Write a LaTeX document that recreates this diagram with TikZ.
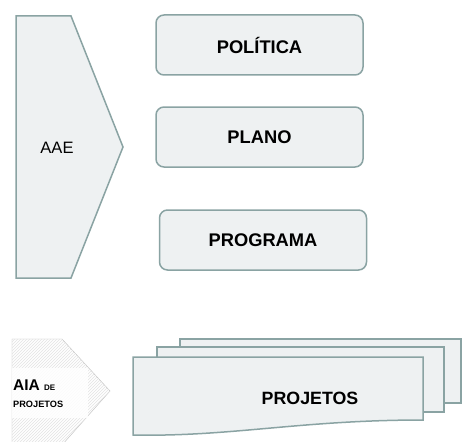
\documentclass[tikz,border=0pt]{standalone}
\usepackage{fontspec}
\setmainfont{Liberation Sans}
\usetikzlibrary{patterns}
\definecolor{edgegray}{HTML}{8AA3A3}
\definecolor{boxfill}{HTML}{EEF1F2}
\tikzset{
  levelbox/.style={draw=edgegray, fill=boxfill, line width=1.5pt, rounded corners=8pt,
    minimum width=207pt, minimum height=60pt, inner sep=0pt,
    font=\fontsize{18.3}{20}\selectfont\bfseries},
  sheet/.style={draw=edgegray, fill=boxfill, line width=1.5pt}
}

\begin{document}
\begin{tikzpicture}[x=1pt,y=-1pt]
\useasboundingbox (0,0) rectangle (462,441);
\clip (0,0) rectangle (462,441);
% AAE arrow
\draw[sheet] (16,16) -- (71,16) -- (123,147) -- (71,278) -- (16,278) -- cycle;
\node[font=\fontsize{16.5}{20}\selectfont] (aae) at (57,148) {AAE};
% levels
\node[levelbox] (politica) at (259.5,45) {POLÍTICA};
\node[levelbox] (plano) at (259.5,137) {PLANO};
\node[levelbox] (programa) at (263,240) {PROGRAMA};
% AIA arrow
\draw[draw=gray!55, fill=white, postaction={pattern=north east lines, pattern color=gray!22}]
(12,339) -- (62,339) -- (110,391) -- (62,445) -- (12,445) -- cycle;
\fill[white, opacity=.85] (12,368) rectangle (88,418);
\node[anchor=base west, inner sep=0pt] (aia) at (13,390)
{\fontsize{15.5}{17}\selectfont\bfseries AIA \fontsize{8}{9}\selectfont DE};
\node[anchor=base west, inner sep=0pt] (aiaprojetos) at (13,407.5)
{\fontsize{9.2}{10}\selectfont\bfseries PROJETOS};
% stack of projects
\draw[sheet] (180,339) rectangle (461,403);
\draw[sheet] (157,347) rectangle (444,412);
\draw[sheet] (133,357) -- (423,357) -- (423,420)
.. controls (300,420) and (230,437) .. (133,435) -- cycle;
\node[font=\fontsize{17.8}{20}\selectfont\bfseries] (projetos) at (310,398) {PROJETOS};
\end{tikzpicture}
\end{document}
